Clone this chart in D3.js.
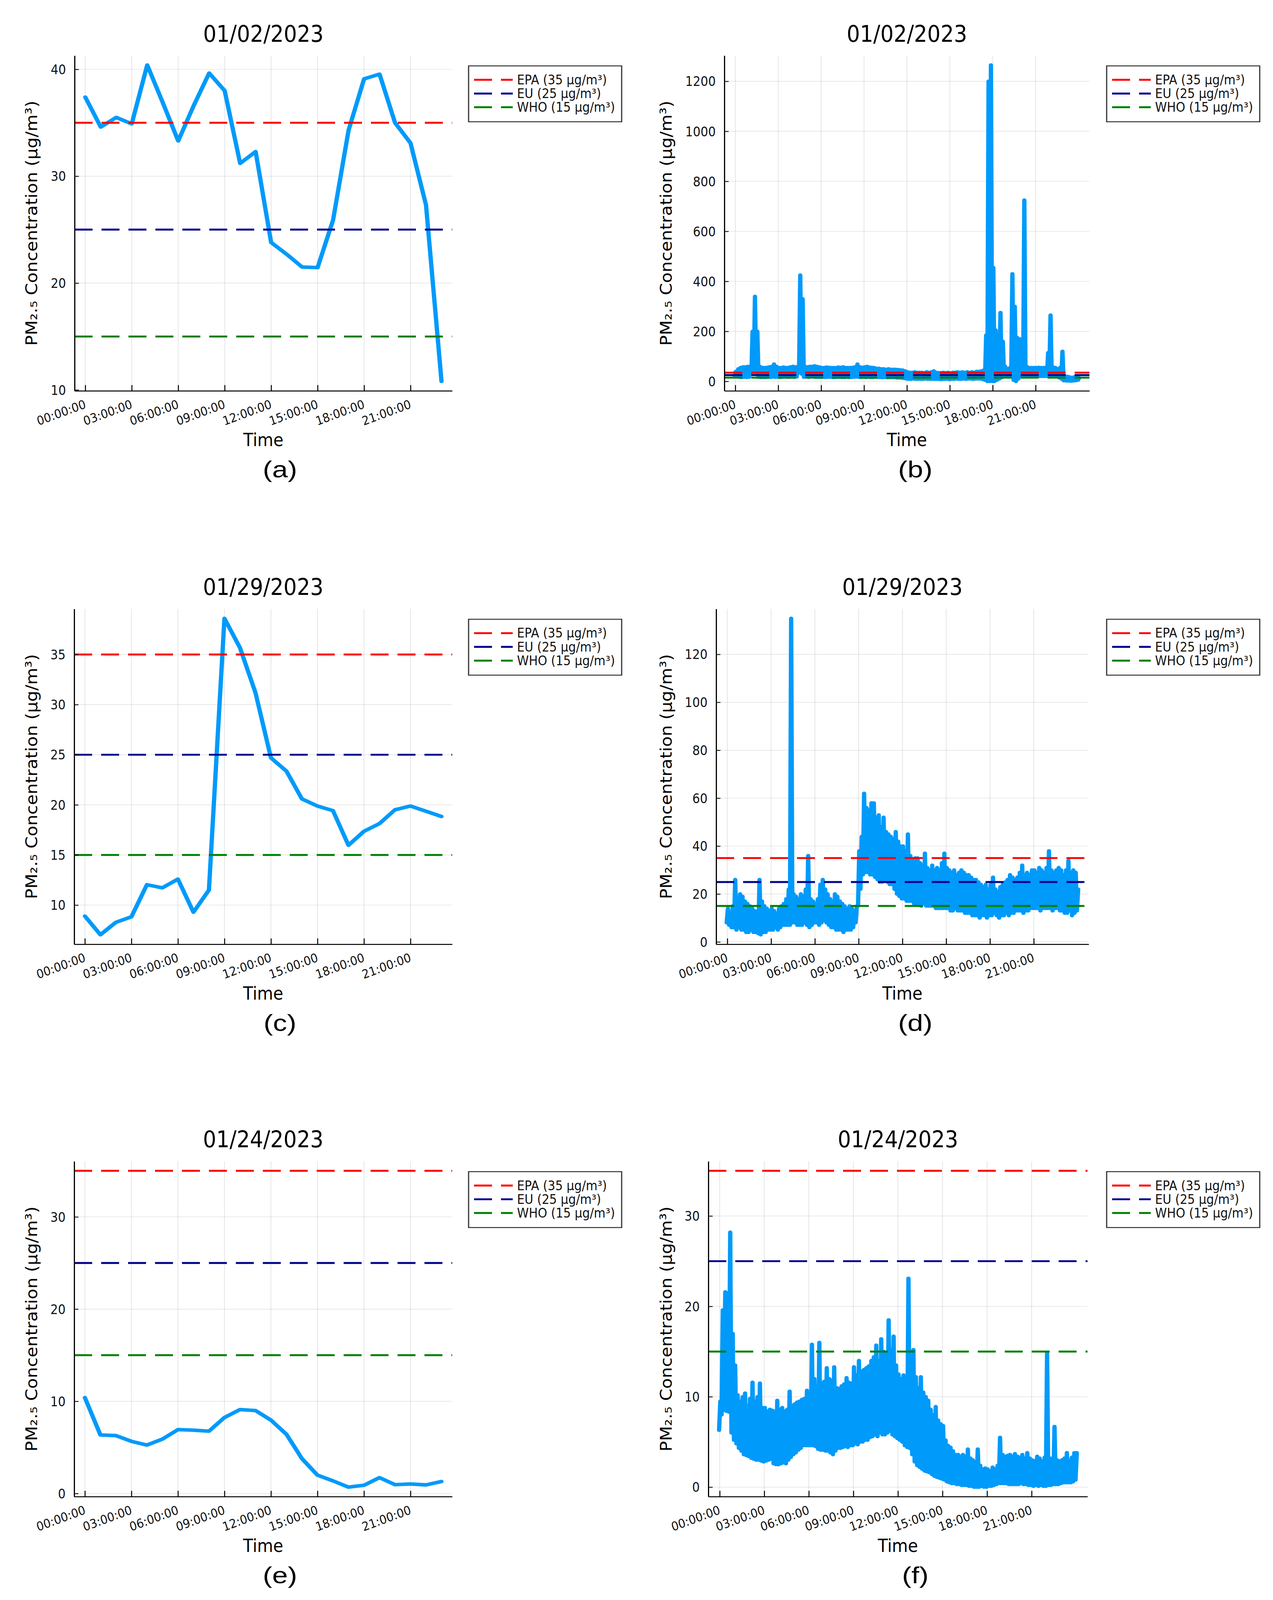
<!DOCTYPE html>
<html><head><meta charset="utf-8">
<script src="https://cdn.jsdelivr.net/npm/d3@7"></script>
<style>
html,body{margin:0;padding:0;background:#fff;overflow:hidden;width:100%;height:100%}
svg{display:block;width:100vw;height:100vh}
</style>
</head><body>
<svg id="fig" viewBox="0 0 3260 4953" preserveAspectRatio="none"></svg>
<script>
// ---------------- data ----------------
const hourTickValues = [0, 3, 6, 9, 12, 15, 18, 21];
const hourTickLabels = ["00:00:00","03:00:00","06:00:00","09:00:00","12:00:00","15:00:00","18:00:00","21:00:00"];
const panelTitles = ["01/02/2023","01/02/2023","01/29/2023","01/29/2023","01/24/2023","01/24/2023"];
const panelLetters = ["(a)","(b)","(c)","(d)","(e)","(f)"];
const thresholdNames = ["EPA (35 μg/m³)","EU (25 μg/m³)","WHO (15 μg/m³)"];
const thresholdValues = [35, 25, 15];
const yTicksA = [10, 20, 30, 40];
const yTicksB = [0, 200, 400, 600, 800, 1000, 1200];
const yTicksC = [10, 15, 20, 25, 30, 35];
const yTicksD = [0, 20, 40, 60, 80, 100, 120];
const yTicksE = [0, 10, 20, 30];
const yTicksF = [0, 10, 20, 30];

// hourly means (one value per hour, 00:00 ... 23:00)
const jan02Hourly = [37.4, 34.6, 35.5, 34.9, 40.4, 36.9, 33.3, 36.6, 39.65, 38.0, 31.2, 32.3,
  23.8, 22.7, 21.5, 21.45, 25.9, 34.3, 39.1, 39.55, 35.0, 33.1, 27.3, 10.8];
const jan29Hourly = [8.9, 7.04, 8.28, 8.83, 12.03, 11.72, 12.59, 9.29, 11.5, 38.6, 35.68, 31.2,
  24.69, 23.36, 20.59, 19.88, 19.42, 15.97, 17.36, 18.13, 19.51, 19.88, 19.36, 18.84];
const jan24Hourly = [10.4, 6.35, 6.28, 5.66, 5.25, 5.9, 6.93, 6.87, 6.76, 8.24, 9.1, 9.0,
  7.96, 6.42, 3.78, 1.99, 1.37, 0.69, 0.89, 1.72, 0.96, 1.03, 0.93, 1.30];

// raw readings: lowest and highest reading of every 10-minute window, 00:00 ... 24:00
const windowMinutes = 10;
const jan02Min = [
  22, 18, 17, 16, 17, 16,   17, 30, 40, 30, 17, 16,   16, 16, 17, 16, 18, 17,
  17, 16, 17, 18, 17, 17,   18, 17, 18, 35, 30, 17,   18, 17, 18, 18, 17, 17,
  17, 17, 16, 17, 17, 16,   16, 17, 17, 16, 16, 17,   16, 16, 17, 18, 17, 16,
  17, 16, 17, 16, 16, 17,   16, 16, 15, 16, 15, 15,   15, 15, 14, 14, 13, 12,
  10, 9, 9, 10, 9, 9,       9, 9, 10, 9, 9, 9,        9, 9, 8, 8, 9, 9,
  8, 9, 9, 10, 9, 9,        10, 9, 10, 10, 9, 10,     10, 10, 8, 5, 0, 0,
  0, 0, 5, 10, 15, 18,      18, 18, 18, 5, 0, 10,     18, 18, 20, 20, 20, 20,
  20, 20, 20, 20, 20, 20,   20, 20, 20, 18, 15, 10,   3, 2, 2, 1, 2, 3,
  5];
const jan02Max = [
  40, 50, 55, 58, 58, 60,   60, 200, 340, 200, 60, 56,   55, 56, 58, 60, 69, 60,
  55, 55, 57, 55, 56, 58,   60, 58, 60, 425, 330, 60,   58, 60, 60, 62, 60, 58,
  55, 55, 57, 56, 55, 55,   55, 57, 56, 58, 55, 55,   55, 56, 58, 69, 58, 56,
  58, 60, 57, 56, 55, 52,   52, 50, 50, 48, 50, 48,   48, 48, 47, 46, 45, 42,
  38, 36, 36, 38, 36, 36,   36, 35, 38, 36, 38, 42,   36, 35, 35, 36, 35, 36,
  34, 36, 36, 38, 36, 38,   36, 38, 36, 38, 36, 40,   40, 42, 45, 185, 1200, 1265,
  455, 205, 170, 275, 160, 60,   50, 55, 430, 300, 175, 170,   150, 725, 60, 55, 55, 55,
  55, 56, 55, 55, 56, 115,   265, 58, 55, 50, 55, 120,   22, 20, 18, 16, 18, 20,
  14];
const jan29Min = [
  8, 7, 6, 6, 5, 6,   5, 5, 4, 4, 5, 4,   4, 3.5, 3, 4, 4, 5,
  5, 5, 6, 5, 6, 7,   7, 7, 7, 8, 8, 7,   7, 7, 8, 7, 6, 7,
  8, 8, 7, 8, 9, 8,   7, 6, 6, 5, 5, 5,   4, 5, 5, 5, 6, 8,
  15, 22, 28, 29, 29, 28,   28, 27, 26, 25, 25, 26,   25, 24, 24, 22, 20, 19,
  18, 18, 17, 17, 17, 16,   16, 16, 15, 16, 15, 15,   15, 15, 14, 14, 14, 14,
  14, 14, 13, 13, 14, 13,   13, 13, 12, 12, 12, 11,   11, 11, 10, 11, 11, 10,
  11, 11, 12, 11, 10, 11,   11, 12, 11, 12, 12, 13,   13, 13, 12, 13, 13, 14,
  14, 14, 14, 13, 14, 14,   14, 14, 13, 14, 14, 13,   13, 12, 12, 13, 11, 12,
  13];
const jan29Max = [
  14, 12, 15, 26, 14, 20,   19, 17, 16, 15, 14, 13,   12, 26, 17, 15, 14, 13,
  14, 13, 12, 14, 15, 16,   18, 22, 135, 20, 19, 18,   20, 19, 22, 36, 18, 17,
  16, 18, 24, 26, 22, 20,   18, 17, 20, 19, 17, 16,   15, 14, 15, 14, 13, 15,
  38, 44, 62, 56, 55, 58,   58, 52, 53, 48, 52, 46,   45, 44, 43, 46, 42, 40,
  40, 38, 45, 36, 34, 35,   35, 33, 32, 37, 31, 30,   32, 30, 31, 30, 33, 37,
  31, 30, 29, 30, 28, 29,   30, 29, 28, 28, 27, 26,   26, 25, 24, 23, 24, 22,
  24, 27, 22, 21, 23, 24,   25, 26, 28, 27, 26, 27,   29, 32, 28, 29, 28, 30,
  30, 29, 31, 30, 29, 31,   38, 30, 29, 30, 31, 30,   28, 30, 34, 29, 30, 29,
  22];
const jan24Min = [
  6.3, 8, 8.5, 8.4, 8.3, 6,   5.2, 4.8, 4.3, 4, 3.6, 3.5,   3.4, 3.2, 3.1, 3, 3, 2.9,
  2.8, 2.9, 3, 3.1, 2.6, 2.5,   2.5, 2.6, 2.7, 2.6, 3, 3.3,   3.6, 3.8, 4.1, 4.3, 4.6, 4.6,
  4.6, 4.6, 4.6, 4.5, 4.2, 4.1,   4.1, 4.0, 4.0, 3.8, 3.6, 4.0,   4.3, 4.3, 4.4, 4.5, 4.4, 4.6,
  4.6, 4.8, 4.7, 5, 5, 5.2,   5.2, 5.5, 5.6, 5.8, 5.6, 6,   5.8, 5.8, 6, 6.2, 5.8, 5.6,
  5.4, 5.2, 5, 4.6, 4.4, 4.3,   3.6, 2.8, 2.4, 2.2, 2, 1.8,   1.7, 1.6, 1.4, 1.2, 1.1, 1,
  0.9, 0.8, 0.6, 0.5, 0.4, 0.4,   0.3, 0.3, 0.2, 0.2, 0.2, 0.1,   0.1, 0, 0, 0, 0.1, 0,
  0, 0.1, 0.1, 0.2, 0.3, 0.4,   0.4, 0.4, 0.4, 0.3, 0.3, 0.3,   0.3, 0.3, 0.4, 0.3, 0.3, 0.2,
  0.2, 0.1, 0.2, 0.1, 0.2, 0.1,   0.1, 0.2, 0.2, 0.3, 0.3, 0.3,   0.4, 0.5, 0.5, 0.5, 0.5, 0.6,
  0.8];
const jan24Max = [
  9.5, 19.6, 21.6, 21.5, 28.2, 17,   13.5, 10.2, 9.5, 10, 10.4, 9,   9.8, 11.6, 9.5, 10, 11.5, 8.8,
  8.8, 8.4, 8.6, 8.5, 8.4, 9.6,   8.6, 8.8, 8.4, 8.6, 10.6, 9,   9.2, 9.4, 9.5, 9.7, 9.8, 10.7,
  10, 15.8, 12, 11, 16, 11.5,   11.7, 13.2, 12, 11.8, 13.3, 11,   10.9, 11.2, 11.4, 12.1, 11.6, 11.5,
  13.3, 12.4, 14, 12.8, 13, 13.2,   13.4, 14, 14.4, 15.7, 14, 16.4,   15, 14.8, 18.5, 15.2, 16.7, 13.5,
  12.5, 12, 12.4, 11.8, 23.1, 12,   15.2, 12.2, 11, 12.2, 10.5, 10,   9.6, 8.6, 8, 8.9, 7.4, 7,
  6.8, 5.2, 4.6, 4.4, 4, 3.6,   3.6, 3.4, 3.6, 3.4, 4.2, 3.2,   3, 2.8, 4.2, 2.4, 2, 2.1,
  2, 1.8, 2.2, 2, 2.4, 5.5,   3.6, 3.4, 3.5, 3.6, 3.4, 3.7,   3.4, 3.3, 3.6, 3.2, 3.8, 3.2,
  3, 2.9, 3.4, 3.2, 2.9, 3.3,   14.9, 3.2, 3.2, 6.7, 3, 2.9,   3, 3.2, 3.8, 2.9, 3.3, 3.8,
  3.8];

// ---------------- style / layout ----------------
const S = 0.765;                       // horizontal squash of the original figure
const FONT = "'DejaVu Sans', sans-serif";
const LETTER_FONT = "'Liberation Sans', Arial, Helvetica, sans-serif";
const SERIES_COLOR = "#009AFA";
const thresholdColors = ["#FF0000", "#00008B", "#008000"];

// hourly series: one point per hour
function hourlySeries(vals) { return vals.map((v, i) => ({t: i, v})); }
// raw series: each 10-minute window contributes its low and its high reading
function windowSeries(lo, hi) {
  const out = [];
  const q = windowMinutes / 4 / 60;
  lo.forEach((v, i) => {
    const t = i * windowMinutes / 60;
    out.push({t: t - q, v: v});
    out.push({t: t + q, v: hi[i]});
  });
  return out;
}

const panels = [
  {series: hourlySeries(jan02Hourly), yTicks: yTicksA, left: 191, right: 1158, bottom: 1210, col: 0},
  {series: windowSeries(jan02Min, jan02Max), yTicks: yTicksB, left: 1855, right: 2790, bottom: 1210, col: 1},
  {series: hourlySeries(jan29Hourly), yTicks: yTicksC, left: 190, right: 1158, bottom: 2923, col: 0},
  {series: windowSeries(jan29Min, jan29Max), yTicks: yTicksD, left: 1834, right: 2788, bottom: 2923, col: 1},
  {series: hourlySeries(jan24Hourly), yTicks: yTicksE, left: 190, right: 1158, bottom: 4633, col: 0},
  {series: windowSeries(jan24Min, jan24Max), yTicks: yTicksF, left: 1814, right: 2785, bottom: 4633, col: 1}
];
const PLOT_H = 1038;
const colYLabelX = [95, 1720];
const colLegendX = [1200, 2834];
const colLetterX = [717, 2344];

const svg = d3.select("#fig");
svg.append("rect").attr("width", 3260).attr("height", 4953).attr("fill", "#fff");

panels.forEach((p, idx) => {
  p.top = p.bottom - PLOT_H;
  const g = svg.append("g");

  const ey = d3.extent(p.series.map(d => d.v).concat(thresholdValues));
  const py = (ey[1] - ey[0]) * 0.03;
  const y = d3.scaleLinear().domain([ey[0] - py, ey[1] + py]).range([p.bottom, p.top]);
  const ex = d3.extent(p.series, d => d.t);
  const px = (ex[1] - ex[0]) * 0.03;
  const x = d3.scaleLinear().domain([ex[0] - px, ex[1] + px]).range([p.left, p.right]);

  // grid
  g.append("g").selectAll("line").data(hourTickValues).join("line")
    .attr("x1", d => x(d)).attr("x2", d => x(d)).attr("y1", p.top).attr("y2", p.bottom)
    .attr("stroke", "#000").attr("stroke-opacity", 0.1).attr("stroke-width", 2);
  g.append("g").selectAll("line").data(p.yTicks).join("line")
    .attr("x1", p.left).attr("x2", p.right).attr("y1", d => y(d)).attr("y2", d => y(d))
    .attr("stroke", "#000").attr("stroke-opacity", 0.1).attr("stroke-width", 2);

  // series
  const line = d3.line().x(d => x(d.t)).y(d => y(d.v));
  g.append("path").datum(p.series).attr("d", line)
    .attr("fill", "none").attr("stroke", SERIES_COLOR).attr("stroke-width", 11)
    .attr("stroke-linejoin", "round").attr("stroke-linecap", "round");

  // threshold lines
  g.append("g").selectAll("line").data(thresholdValues).join("line")
    .attr("x1", p.left).attr("x2", p.right).attr("y1", d => y(d)).attr("y2", d => y(d))
    .attr("stroke", (d, k) => thresholdColors[k]).attr("stroke-width", 6)
    .attr("stroke-dasharray", "46,23");

  // x axis
  const xAxis = d3.axisBottom(x).tickValues(hourTickValues)
    .tickFormat((d, i) => hourTickLabels[i]).tickSizeInner(-18).tickSizeOuter(0);
  const gx = g.append("g").attr("transform", `translate(0,${p.bottom})`).call(xAxis);
  gx.select(".domain").attr("stroke", "#000").attr("stroke-width", 3);
  gx.selectAll(".tick line").attr("stroke", "#000").attr("stroke-width", 2.5);
  gx.selectAll(".tick text")
    .attr("y", null).attr("dy", null)
    .attr("transform", `translate(3,52) scale(${S},1) rotate(-19)`)
    .attr("text-anchor", "end").attr("fill", "#111")
    .style("font-family", FONT).style("font-size", "38px");

  // y axis
  const yAxis = d3.axisLeft(y).tickValues(p.yTicks).tickFormat(d3.format("d"))
    .tickSizeInner(-11).tickSizeOuter(0);
  const gy = g.append("g").attr("transform", `translate(${p.left},0)`).call(yAxis);
  gy.select(".domain").attr("stroke", "#000").attr("stroke-width", 3);
  gy.selectAll(".tick line").attr("stroke", "#000").attr("stroke-width", 2.5);
  gy.selectAll(".tick text")
    .attr("x", null).attr("dy", "0.36em")
    .attr("transform", `translate(-22,0) scale(${S},1)`)
    .attr("text-anchor", "end").attr("fill", "#111")
    .style("font-family", FONT).style("font-size", "40px");

  const mid = (p.left + p.right) / 2;
  // title
  g.append("text").attr("transform", `translate(${mid},${p.top - 43}) scale(${S},1)`)
    .attr("text-anchor", "middle").style("font-family", FONT).style("font-size", "70px")
    .attr("fill", "#000").text(panelTitles[idx]);
  // x label
  g.append("text").attr("transform", `translate(${mid},${p.bottom + 171}) scale(${S},1)`)
    .attr("text-anchor", "middle").style("font-family", FONT).style("font-size", "55px")
    .attr("fill", "#000").text("Time");
  // y label
  g.append("text")
    .attr("transform", `translate(${colYLabelX[p.col]},${(p.top + p.bottom) / 2}) scale(${S},1) rotate(-90)`)
    .attr("text-anchor", "middle").style("font-family", FONT).style("font-size", "54px")
    .attr("fill", "#000").text("PM₂.₅ Concentration (μg/m³)");

  // legend
  const lx = colLegendX[p.col], ly = p.top + 32;
  const lg = g.append("g");
  lg.append("rect").attr("x", lx).attr("y", ly).attr("width", 392).attr("height", 173)
    .attr("fill", "#fff").attr("stroke", "#333").attr("stroke-width", 3);
  thresholdNames.forEach((name, k) => {
    const ry = ly + 43 + k * 42.5;
    lg.append("line").attr("x1", lx + 14).attr("x2", lx + 113).attr("y1", ry).attr("y2", ry)
      .attr("stroke", thresholdColors[k]).attr("stroke-width", 6).attr("stroke-dasharray", "46,23");
    lg.append("text").attr("transform", `translate(${lx + 124},${ry + 14}) scale(${S},1)`)
      .style("font-family", FONT).style("font-size", "40px").attr("fill", "#111").text(name);
  });

  // panel letter
  g.append("text").attr("x", colLetterX[p.col]).attr("y", p.bottom + 268)
    .attr("text-anchor", "middle").style("font-family", LETTER_FONT).style("font-size", "72px")
    .attr("fill", "#000").text(panelLetters[idx]);
});
</script>
</body></html>
